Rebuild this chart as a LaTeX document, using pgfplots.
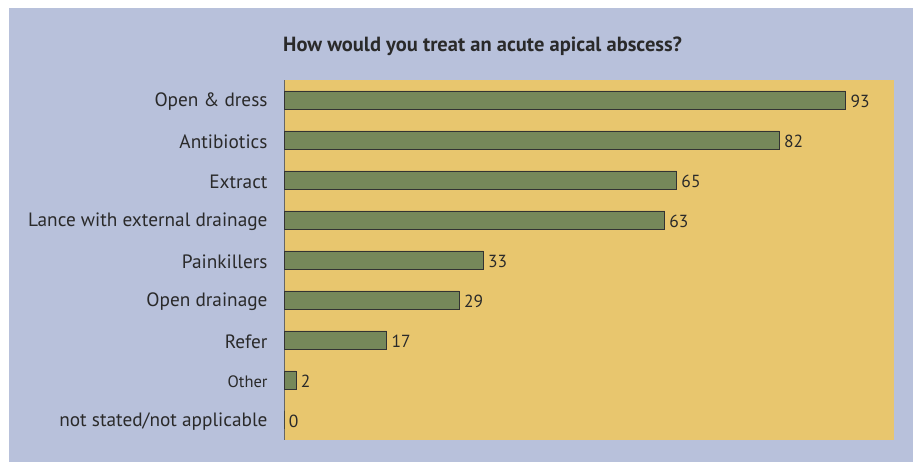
\documentclass[border=0pt]{standalone}
\usepackage{pgfplots}
\pgfplotsset{compat=1.18}
\usepackage{fontspec}
\setmainfont{PT Sans}
\definecolor{panel}{HTML}{B8C1DB}
\definecolor{plotbg}{HTML}{E8C66E}
\definecolor{barfill}{HTML}{76885A}
\definecolor{txt}{HTML}{2A2A2A}
\pgfplotstableread{
y val
8 93
7 82
6 65
5 63
4 33
3 29
2 17
1 2
0 0
}\datatable
\begin{document}
\begin{tikzpicture}[x=1pt,y=1pt]
\useasboundingbox (0,0) rectangle (918,462);
\fill[white] (0,0) rectangle (918,462);
\fill[panel] (9,0) rectangle (913,454);
\node[anchor=base west, text=txt, inner sep=0pt, font=\fontsize{20.5}{23}\selectfont\bfseries] at (283,410) {How would you treat an acute apical abscess?};
\begin{axis}[
  at={(284pt,22pt)}, anchor=south west,
  scale only axis, width=610pt, height=360pt,
  xbar, bar width=18pt,
  xmin=0, xmax=101, ymin=-0.5, ymax=8.5,
  hide x axis,
  axis y line*=left,
  y axis line style={draw=black!60, line width=0.8pt, -},
  axis background/.style={fill=plotbg},
  ytick={0,1,2,3,4,5,6,7,8},
  yticklabels={not stated/not applicable,{\fontsize{16.5}{17}\selectfont Other},Refer,Open drainage,Painkillers,Lance with external drainage,Extract,Antibiotics,Open \& dress},
  ytick style={draw=none},
  yticklabel style={inner sep=0pt, xshift=-12pt, yshift=-2pt, text=txt, font=\fontsize{19.3}{22}\selectfont},
  /pgf/number format/assume math mode=true,
  nodes near coords,
  nodes near coords align=horizontal,
  every node near coord/.append style={text=txt, font=\fontsize{17.5}{18}\selectfont, inner sep=2pt, xshift=2.5pt, yshift=-1pt},
  clip=false,
]
\addplot[fill=barfill, draw=black!80, line width=0.8pt] table[x=val, y=y] {\datatable};
\end{axis}
\end{tikzpicture}
\end{document}
